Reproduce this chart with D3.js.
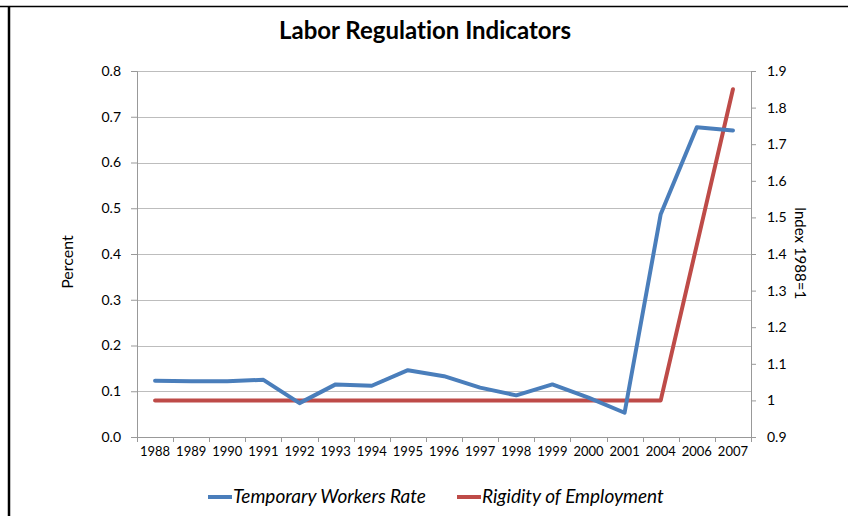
<!DOCTYPE html>
<html>
<head>
<meta charset="utf-8">
<script src="https://cdn.jsdelivr.net/npm/d3@7"></script>
<style>
  body { margin: 0; background: #fff; }
  text { font-family: Lato, "Open Sans", sans-serif; fill: #000; font-variant-ligatures: none; }
</style>
</head>
<body>
<div id="chart"></div>
<script>
var years = ['1988','1989','1990','1991','1992','1993','1994','1995','1996','1997','1998','1999','2000','2001','2004','2006','2007'];
var tempWorkers = [0.123,0.122,0.122,0.125,0.074,0.115,0.112,0.146,0.133,0.108,0.091,0.115,0.086,0.053,0.487,0.677,0.670];
var rigidity = [1,1,1,1,1,1,1,1,1,1,1,1,1,1,1,1.425,1.85];
var leftTicks = [0,0.1,0.2,0.3,0.4,0.5,0.6,0.7,0.8];
var rightTicks = [0.9,1,1.1,1.2,1.3,1.4,1.5,1.6,1.7,1.8,1.9];
var seriesNames = ['Temporary Workers Rate', 'Rigidity of Employment'];
var seriesColors = ['#4a7ebb', '#be4b48'];

var width = 848, height = 516;
var margin = {left: 137, right: 97, top: 71, bottom: 79};
var plotW = width - margin.left - margin.right,
    plotH = height - margin.top - margin.bottom;

var svg = d3.select('#chart').append('svg')
    .attr('width', width)
    .attr('height', height);

// outer frame (partial, as in the source image)
svg.append('line').attr('x1', 0).attr('x2', width).attr('y1', 6.5).attr('y2', 6.5)
    .attr('stroke', '#000').attr('stroke-width', 1.5);
svg.append('line').attr('x1', 9).attr('x2', 9).attr('y1', 6).attr('y2', height)
    .attr('stroke', '#000').attr('stroke-width', 2.5);

var x = d3.scaleBand().domain(years).range([0, plotW]);
var yL = d3.scaleLinear().domain([0, 0.8]).range([plotH, 0]);
var yR = d3.scaleLinear().domain([0.9, 1.9]).range([plotH, 0]);

var g = svg.append('g').attr('transform', 'translate(' + margin.left + ',' + margin.top + ')');

// gridlines
g.selectAll('.grid').data(leftTicks.slice(1)).enter().append('line')
    .attr('x1', 0).attr('x2', plotW)
    .attr('y1', function(d) { return Math.round(yL(d)) + 0.5; })
    .attr('y2', function(d) { return Math.round(yL(d)) + 0.5; })
    .attr('stroke', '#bdbdbd').attr('stroke-width', 1);

// left axis
var axL = g.append('g').call(d3.axisLeft(yL).tickValues(leftTicks).tickFormat(d3.format('.1f')).tickSize(6).tickPadding(10));
// right axis
var axR = g.append('g').attr('transform', 'translate(' + plotW + ',0)')
    .call(d3.axisRight(yR).tickValues(rightTicks).tickFormat(function(d) { return d3.format('~g')(d); }).tickSize(5).tickPadding(11));
// bottom axis
var axB = g.append('g').attr('transform', 'translate(0,' + plotH + ')')
    .call(d3.axisBottom(x).tickSize(0).tickPadding(10));
// category boundary ticks
var bounds = years.map(function(d) { return x(d); }).concat([plotW]);
g.selectAll('.btick').data(bounds).enter().append('line')
    .attr('x1', function(d) { return Math.round(d) + 0.5; })
    .attr('x2', function(d) { return Math.round(d) + 0.5; })
    .attr('y1', plotH).attr('y2', plotH + 5)
    .attr('stroke', '#999');

[axL, axR].forEach(function(a) {
    a.selectAll('text').style('font-size', '14px');
});
axB.selectAll('text').style('font-size', '13px');
[axL, axR, axB].forEach(function(a) {
    a.select('.domain').attr('stroke', '#999');
    a.selectAll('.tick line').attr('stroke', '#999');
    a.selectAll('text').style('font-family', 'Lato, sans-serif');
});

// lines
var lineL = d3.line().x(function(d, i) { return x(years[i]) + x.bandwidth() / 2; }).y(function(d) { return yL(d); });
var lineR = d3.line().x(function(d, i) { return x(years[i]) + x.bandwidth() / 2; }).y(function(d) { return yR(d); });

g.append('path').datum(rigidity).attr('d', lineR)
    .attr('fill', 'none').attr('stroke', seriesColors[1]).attr('stroke-width', 4)
    .attr('stroke-linejoin', 'round').attr('stroke-linecap', 'round');
g.append('path').datum(tempWorkers).attr('d', lineL)
    .attr('fill', 'none').attr('stroke', seriesColors[0]).attr('stroke-width', 4)
    .attr('stroke-linejoin', 'round').attr('stroke-linecap', 'round');

// title
svg.append('text').attr('x', 425).attr('y', 39).attr('text-anchor', 'middle')
    .style('font-size', '24px').style('font-weight', 'bold')
    .text('Labor Regulation Indicators');

// axis titles
svg.append('text').attr('transform', 'translate(73,262) rotate(-90)')
    .attr('text-anchor', 'middle').style('font-size', '16px').text('Percent');
svg.append('text').attr('transform', 'translate(795,253) rotate(90)')
    .attr('text-anchor', 'middle').style('font-size', '15px').text('Index 1988=1');

// legend
var legX = [208, 457];
seriesNames.forEach(function(name, i) {
    svg.append('line').attr('x1', legX[i]).attr('x2', legX[i] + 24)
        .attr('y1', 497).attr('y2', 497)
        .attr('stroke', seriesColors[i]).attr('stroke-width', 4);
    svg.append('text').attr('x', legX[i] + 25).attr('y', 503)
        .style('font-size', '19px').style('font-style', 'italic').text(name);
});
</script>
</body>
</html>
